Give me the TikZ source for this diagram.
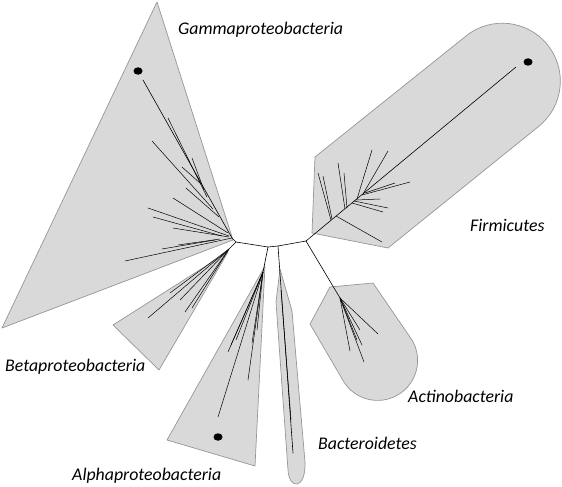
\documentclass[tikz,border=0pt]{standalone}
\usepackage{fontspec}
\setmainfont{Carlito}
\usepackage{xcolor}
\usetikzlibrary{shapes.geometric,positioning,calc}
\definecolor{cladefill}{RGB}{217,217,217}
\definecolor{cladeedge}{RGB}{150,150,150}

\begin{document}
\begin{tikzpicture}[
    x=1pt, y=-1pt,
    clade/.style={fill=cladefill, draw=cladeedge, line width=0.7pt, line join=round},
    branch/.style={draw=black, line width=0.6pt, line cap=round},
    twig/.style={draw=black, line width=0.5pt, line cap=round},
    leafdot/.style={ellipse, fill=black, inner sep=0pt, minimum width=9pt, minimum height=7.5pt},
    lbl/.style={anchor=west, inner sep=0pt, font=\itshape\fontsize{17.8}{20}\selectfont},
  ]
    \useasboundingbox (0,0) rectangle (562,487);

    % Clade hulls
    \draw[clade] (157,2) -- (233,240) -- (2,328) -- cycle;
    \draw[clade] (228,252) -- (159,370) -- (113,325) -- cycle;
    \draw[clade] (265,266) -- (255,466) -- (167,440) -- cycle;
    \draw[clade] (280,269) -- (292,311) -- (305,462)
        .. controls (306,490) and (289,490) .. (288,470) -- (276,302) -- cycle;
    \draw[clade] (315,157) -- (466,36) arc (-128.8:51.2:58) -- (388,248) -- (312,233) -- cycle;
    \draw[clade] (330,287) -- (373,283) -- (412,340) arc (-30.7:149.3:40) -- (310,324) -- cycle;

    % Backbone junctions
    \coordinate (jL) at (236,242);
    \coordinate (jA) at (268,247);
    \coordinate (jB) at (278,246);
    \coordinate (jR) at (306,241);
    \draw[branch] (jL) -- (jA) -- (jB) -- (jR);

    % Gammaproteobacteria
    \coordinate (tGamma) at (143,80);
    \draw[branch] (jL) -- (232,238) -- (tGamma);
    \draw[twig] (168,118) -- (207,197);
    \draw[twig] (152,141) -- (213,209);
    \draw[twig] (192,158) -- (204,190);
    \draw[twig] (182,167) -- (201,184);
    \draw[twig] (186,188) -- (219,217);
    \draw[twig] (173,198) -- (228,233);
    \draw[twig] (148,208) -- (229,236);
    \draw[twig] (153,217) -- (222,236);
    \draw[twig] (173,228) -- (229,237);
    \draw[twig] (125,261) -- (232,238);
    \draw[twig] (162,249) -- (215,240);
    \draw[twig] (178,245) -- (220,239);

    % Betaproteobacteria
    \coordinate (bBeta) at (229,249);
    \draw[branch] (jL) -- (bBeta);
    \draw[twig] (bBeta) -- (148,318);
    \draw[twig] (bBeta) -- (185,312);
    \draw[twig] (bBeta) -- (170,293);
    \draw[twig] (bBeta) -- (192,308);
    \draw[twig] (bBeta) -- (180,300);

    % Alphaproteobacteria
    \coordinate (bAlpha) at (263,272);
    \draw[branch] (jA) -- (bAlpha);
    \draw[twig] (bAlpha) -- (218,417);
    \draw[twig] (bAlpha) -- (248,380);
    \draw[twig] (bAlpha) -- (228,352);
    \draw[twig] (bAlpha) -- (231,345);
    \draw[twig] (bAlpha) -- (236,340);
    \draw[twig] (bAlpha) -- (252,343);
    \draw[twig] (bAlpha) -- (257,330);

    % Bacteroidetes
    \coordinate (tBact) at (293,453);
    \draw[branch] (jB) -- (tBact);
    \draw[twig] (281,290) -- (291,420);

    % Firmicutes
    \coordinate (tFirm) at (516,67);
    \draw[branch] (jR) -- (tFirm);
    \draw[twig] (318,173) -- (331,220);
    \draw[twig] (323,176) -- (332,219);
    \draw[twig] (338,163) -- (345,209);
    \draw[twig] (344,173) -- (347,208);
    \draw[twig] (372,150) -- (357,199);
    \draw[twig] (388,151) -- (363,194);
    \draw[twig] (410,182) -- (362,195);
    \draw[twig] (395,183) -- (365,193);
    \draw[twig] (380,199) -- (356,200);
    \draw[twig] (388,208) -- (354,201);
    \draw[twig] (383,212) -- (352,203);
    \draw[twig] (382,242) -- (336,216);

    % Actinobacteria
    \coordinate (bActino) at (340,298);
    \draw[branch] (jR) -- (bActino);
    \draw[twig] (bActino) -- (378,334);
    \draw[twig] (bActino) -- (350,351);
    \draw[twig] (bActino) -- (364,362);
    \draw[twig] (bActino) -- (362,345);
    \draw[twig] (bActino) -- (360,330);
    \draw[twig] (bActino) -- (357,340);

    % Marked leaves
    \node[leafdot] (dGamma) at (138,71) {};
    \node[leafdot] (dAlpha) at (218,437) {};
    \node[leafdot] (dFirm) at (528,62) {};

    % Labels
    \node[lbl] (lGamma) at (178,30) {Gammaproteobacteria};
    \node[lbl] (lFirm) at (470,225) {Firmicutes};
    \node[lbl] (lBeta) at (5,367) {Betaproteobacteria};
    \node[lbl] (lAlpha) at (72,476) {Alphaproteobacteria};
    \node[lbl] (lActino) at (408,396) {Actinobacteria};
    \node[lbl] (lBact) at (318,443) {Bacteroidetes};
  \end{tikzpicture}
\end{document}
